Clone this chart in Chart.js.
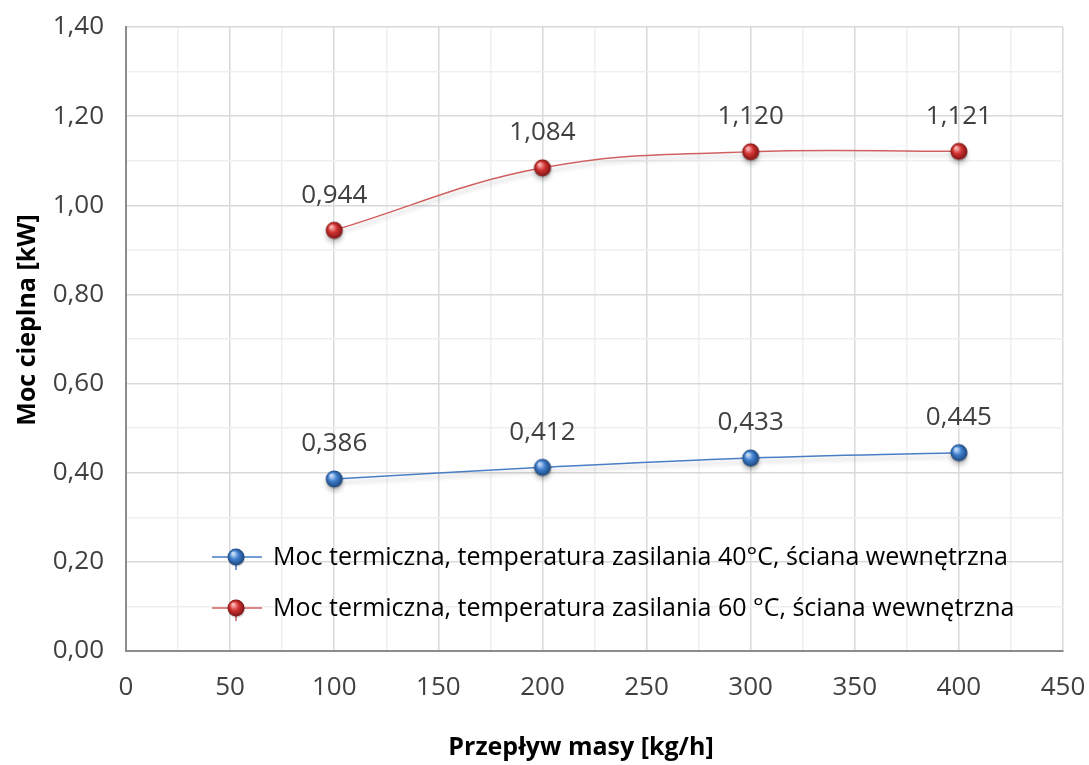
<!DOCTYPE html>
<html lang="pl">

<head>
    <meta charset="UTF-8">
    <title>Moc cieplna a przepływ masy</title>
    <style>
        body {
            margin: 0;
            padding: 0;
            background-color: #fff;
        }

        .chart-box {
            width: 1089px;
            height: 765px;
        }
    </style>
</head>

<body>
    <div class="chart-box">
        <canvas id="powerChart"></canvas>
    </div>

    <script src="https://cdn.jsdelivr.net/npm/chart.js"></script>
    <script>
        // mass flow [kg/h]
        const massFlow = [100, 200, 300, 400];
        // heat output [kW]
        const power40 = [0.386, 0.412, 0.433, 0.445];
        const power60 = [0.944, 1.084, 1.120, 1.121];
        const seriesNames = [
            "Moc termiczna, temperatura zasilania 40°C, ściana wewnętrzna",
            "Moc termiczna, temperatura zasilania 60 °C, ściana wewnętrzna"
        ];
        const xTitle = "Przepływ masy [kg/h]";
        const yTitle = "Moc cieplna [kW]";

        const FONT = "'Open Sans', 'Noto Sans', sans-serif";

        // shaded ball used as the point marker
        function makeBall(light, base, dark) {
            const size = 22;
            const c = document.createElement("canvas");
            c.width = size;
            c.height = size;
            const g = c.getContext("2d");
            const r = 8.5;
            const cx = size / 2, cy = size / 2;
            g.beginPath();
            g.arc(cx + 0.5, cy + 1.5, r, 0, Math.PI * 2);
            g.fillStyle = "rgba(0,0,0,0.18)";
            g.fill();
            const grad = g.createRadialGradient(cx - 3, cy - 3.5, 1, cx, cy, r);
            grad.addColorStop(0, light);
            grad.addColorStop(0.45, base);
            grad.addColorStop(1, dark);
            g.beginPath();
            g.arc(cx, cy, r, 0, Math.PI * 2);
            g.fillStyle = grad;
            g.fill();
            return c;
        }

        const blueBall = makeBall("#c4dcf6", "#3f7fcf", "#1c4679");
        const redBall = makeBall("#f7b4b4", "#d33232", "#7c1414");

        const fmt = (v, d) => Number(v).toFixed(d).replace(".", ",");

        // soft shadow under the lines
        const lineShadow = {
            id: "lineShadow",
            beforeDatasetDraw(chart) {
                const ctx = chart.ctx;
                ctx.save();
                ctx.shadowColor = "rgba(0,0,0,0.22)";
                ctx.shadowBlur = 4;
                ctx.shadowOffsetY = 4;
            },
            afterDatasetDraw(chart) {
                chart.ctx.restore();
            }
        };

        // value labels above the points
        const valueLabels = {
            id: "valueLabels",
            afterDatasetsDraw(chart) {
                const ctx = chart.ctx;
                ctx.save();
                ctx.font = "26px " + FONT;
                ctx.fillStyle = "#404040";
                ctx.textAlign = "center";
                ctx.textBaseline = "middle";
                chart.data.datasets.forEach((ds, i) => {
                    chart.getDatasetMeta(i).data.forEach((pt, j) => {
                        ctx.fillText(fmt(ds.data[j].y, 3), pt.x, pt.y - 35);
                    });
                });
                ctx.restore();
            }
        };

        // legend inside the plot area + axis titles
        const innerLegend = {
            id: "innerLegend",
            afterDraw(chart) {
                const ctx = chart.ctx;
                const rows = [557, 608];
                ctx.save();
                ctx.font = "25px " + FONT;
                ctx.textBaseline = "middle";
                chart.data.datasets.forEach((ds, i) => {
                    const y = rows[i];
                    ctx.strokeStyle = ds.borderColor;
                    ctx.lineWidth = 1.5;
                    ctx.beginPath();
                    ctx.moveTo(212, y);
                    ctx.lineTo(262, y);
                    ctx.moveTo(236, y);
                    ctx.lineTo(236, y + 13);
                    ctx.stroke();
                    const ball = ds.pointStyle;
                    ctx.drawImage(ball, 236 - ball.width / 2, y - ball.height / 2);
                    ctx.fillStyle = "#000";
                    ctx.fillText(ds.label, 273, y + 1);
                });

                ctx.font = "bold 25px " + FONT;
                ctx.textAlign = "center";
                ctx.fillText(xTitle, 581, 748);

                ctx.translate(28, 320);
                ctx.rotate(-Math.PI / 2);
                ctx.fillText(yTitle, 0, 0);
                ctx.restore();
            }
        };

        const ctx = document.getElementById("powerChart").getContext("2d");

        new Chart(ctx, {
            type: "line",
            data: {
                datasets: [{
                    label: seriesNames[0],
                    data: power40,
                    borderColor: "#4a7ec4",
                    borderWidth: 1.5,
                    pointStyle: blueBall,
                    tension: 0.4
                }, {
                    label: seriesNames[1],
                    data: power60,
                    borderColor: "#d06060",
                    borderWidth: 1.5,
                    pointStyle: redBall,
                    tension: 0.4
                }].map(ds => ({
                    ...ds,
                    data: ds.data.map((v, k) => ({ x: massFlow[k], y: v }))
                }))
            },
            options: {
                responsive: true,
                maintainAspectRatio: false,
                animation: false,
                layout: {
                    padding: { top: 27, right: 26, left: 0, bottom: 0 }
                },
                plugins: {
                    legend: { display: false },
                    tooltip: { enabled: false }
                },
                scales: {
                    x: {
                        type: "linear",
                        min: 0,
                        max: 450,
                        afterFit(scale) {
                            scale.height = 114;
                            scale.paddingLeft = 0;
                            scale.paddingRight = 0;
                        },
                        ticks: {
                            stepSize: 25,
                            autoSkip: false,
                            maxRotation: 0,
                            padding: 21,
                            color: "#404040",
                            font: { family: FONT, size: 26 },
                            callback: v => (v % 50 === 0 ? String(v) : "")
                        },
                        grid: {
                            drawTicks: false,
                            color: c => (c.tick && c.tick.value % 50 === 0 ? "#d9d9d9" : "#efefef"),
                            lineWidth: 1.5
                        },
                        border: { color: "#8c8c8c", width: 2 }
                    },
                    y: {
                        min: 0,
                        max: 1.4,
                        afterFit(scale) {
                            scale.width = 126;
                            scale.paddingTop = 0;
                            scale.paddingBottom = 0;
                        },
                        ticks: {
                            stepSize: 0.1,
                            autoSkip: false,
                            padding: 22,
                            color: "#404040",
                            font: { family: FONT, size: 26 },
                            callback: v => (Math.round(v * 10) % 2 === 0 ? fmt(v, 2) : "")
                        },
                        grid: {
                            drawTicks: false,
                            color: c => (c.tick && Math.round(c.tick.value * 10) % 2 === 0 ? "#d9d9d9" : "#efefef"),
                            lineWidth: 1.5
                        },
                        border: { color: "#8c8c8c", width: 2 }
                    }
                }
            },
            plugins: [lineShadow, valueLabels, innerLegend]
        });
    </script>
</body>

</html>
